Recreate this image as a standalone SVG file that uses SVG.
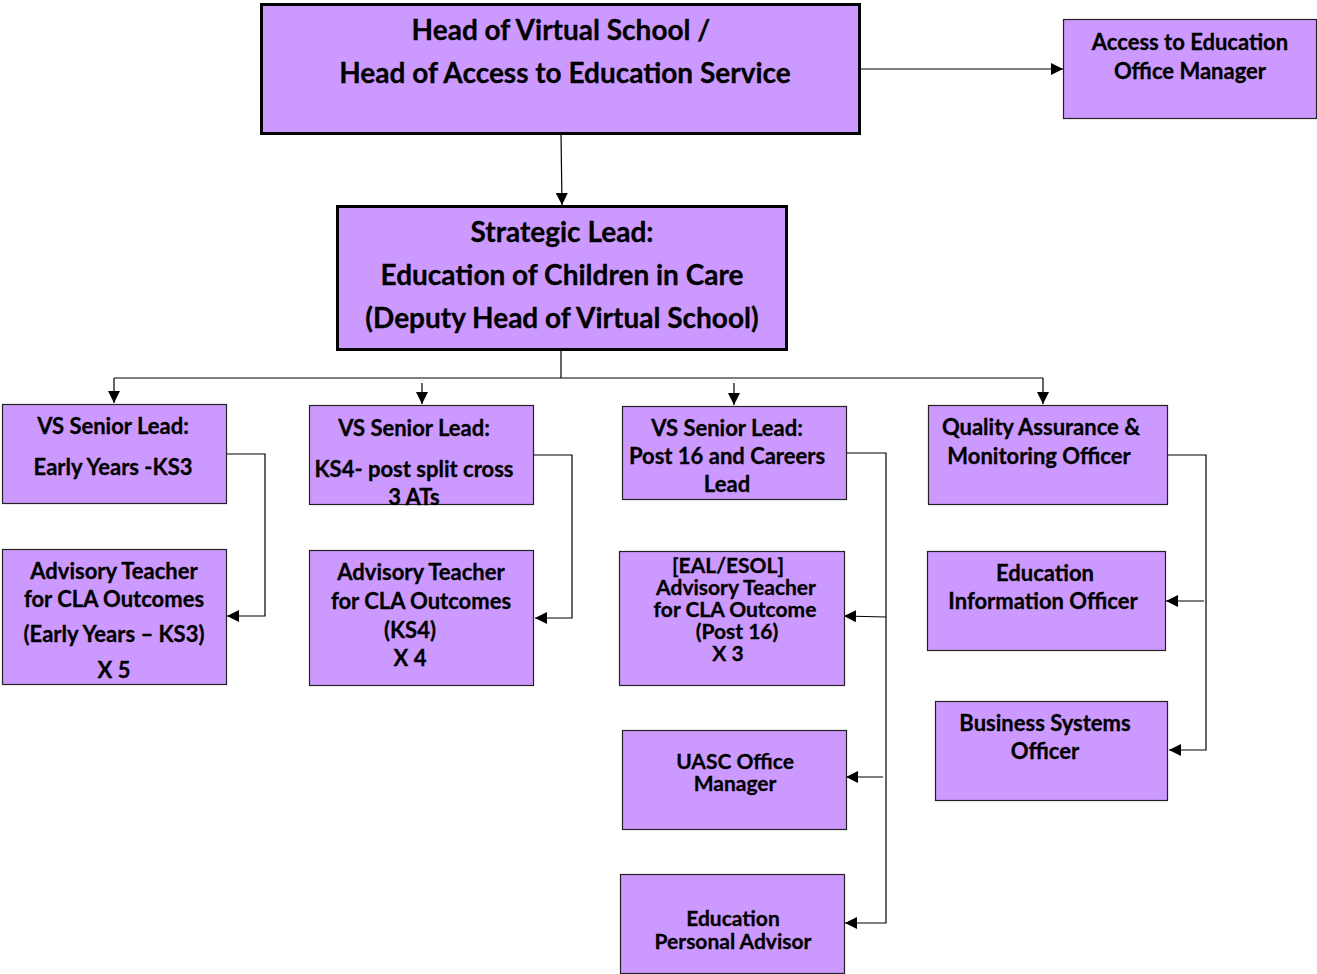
<svg xmlns="http://www.w3.org/2000/svg" width="1317" height="974" viewBox="0 0 1317 974">
<style>
.box{fill:#CC99FF;stroke:#222;stroke-width:1.2}
.bigbox{fill:#CC99FF;stroke:#000;stroke-width:3}
text{font-family:Lato,"Liberation Sans",sans-serif;font-weight:bold;fill:#000;text-anchor:middle;stroke:#000;stroke-width:0.3}
.t26{font-size:28px}
.t20{font-size:22px}
.t21{font-size:21px}
.c{fill:none;stroke:#000;stroke-width:1.2}
</style>
<defs>
<marker id="ah" viewBox="0 0 10 10" refX="10" refY="5" markerWidth="12" markerHeight="12" markerUnits="userSpaceOnUse" orient="auto">
<path d="M0,0 L10,5 L0,10 z" fill="#000"/>
</marker>
</defs>
<g id="connectors">
<line class="c" x1="860" y1="69" x2="1063" y2="69" marker-end="url(#ah)"/>
<line class="c" x1="561" y1="134" x2="562" y2="205" marker-end="url(#ah)"/>
<polyline class="c" points="561,350 561,378"/>
<line class="c" x1="114" y1="378" x2="1043" y2="378"/>
<line class="c" x1="114" y1="378" x2="114" y2="403" marker-end="url(#ah)"/>
<line class="c" x1="422" y1="383" x2="422" y2="404" marker-end="url(#ah)"/>
<line class="c" x1="734" y1="383" x2="734" y2="405" marker-end="url(#ah)"/>
<line class="c" x1="1043" y1="378" x2="1043" y2="404" marker-end="url(#ah)"/>
<polyline class="c" points="226,454 265,454 265,616 227,616" marker-end="url(#ah)"/>
<polyline class="c" points="533,455 572,455 572,618 535,618" marker-end="url(#ah)"/>
<polyline class="c" points="846,453 886,453 886,923 845,923" marker-end="url(#ah)"/>
<line class="c" x1="886" y1="617" x2="844" y2="616" marker-end="url(#ah)"/>
<line class="c" x1="883" y1="777" x2="846" y2="777" marker-end="url(#ah)"/>
<polyline class="c" points="1167,455 1206,455 1206,750 1169,750" marker-end="url(#ah)"/>
<line class="c" x1="1204" y1="601" x2="1166" y2="601" marker-end="url(#ah)"/>
</g>
<g id="head">
<rect class="bigbox" x="261.5" y="4.5" width="598" height="129"/>
<text class="t26" x="561" y="40">Head of Virtual School /</text>
<text class="t26" x="565" y="83">Head of Access to Education Service</text>
</g>
<g id="access-office-manager">
<rect class="box" x="1063.5" y="19.5" width="253" height="99"/>
<text class="t20" x="1190" y="50">Access to Education</text>
<text class="t20" x="1190" y="79">Office Manager</text>
</g>
<g id="strategic-lead">
<rect class="bigbox" x="337.5" y="206.5" width="449" height="143"/>
<text class="t26" x="562" y="242">Strategic Lead:</text>
<text class="t26" x="562" y="285">Education of Children in Care</text>
<text class="t26" x="562" y="328">(Deputy Head of Virtual School)</text>
</g>
<g id="vs-early-years">
<rect class="box" x="2.5" y="404.5" width="224" height="99"/>
<text class="t20" x="113" y="434">VS Senior Lead:</text>
<text class="t20" x="113" y="475">Early Years -KS3</text>
</g>
<g id="vs-ks4">
<rect class="box" x="309.5" y="405.5" width="224" height="99"/>
<text class="t20" x="414" y="436">VS Senior Lead:</text>
<text class="t20" x="414" y="477">KS4- post split cross</text>
<text class="t20" x="414" y="505">3 ATs</text>
</g>
<g id="vs-post16">
<rect class="box" x="622.5" y="406.5" width="224" height="93"/>
<text class="t20" x="727" y="436">VS Senior Lead:</text>
<text class="t20" x="727" y="464">Post 16 and Careers</text>
<text class="t20" x="727" y="492">Lead</text>
</g>
<g id="qa-officer">
<rect class="box" x="928.5" y="405.5" width="239" height="99"/>
<text class="t20" x="1041" y="435">Quality Assurance &amp;</text>
<text class="t20" x="1039" y="464">Monitoring Officer</text>
</g>
<g id="advisory-ey">
<rect class="box" x="2.5" y="549.5" width="224" height="135"/>
<text class="t20" x="114" y="579">Advisory Teacher</text>
<text class="t20" x="114" y="607">for CLA Outcomes</text>
<text class="t20" x="114" y="642">(Early Years – KS3)</text>
<text class="t20" x="114" y="678">X 5</text>
</g>
<g id="advisory-ks4">
<rect class="box" x="309.5" y="550.5" width="224" height="135"/>
<text class="t20" x="421" y="580">Advisory Teacher</text>
<text class="t20" x="421" y="609">for CLA Outcomes</text>
<text class="t20" x="410" y="638">(KS4)</text>
<text class="t20" x="410" y="666">X 4</text>
</g>
<g id="advisory-post16">
<rect class="box" x="619.5" y="551.5" width="225" height="134"/>
<text class="t21" x="728" y="573">[EAL/ESOL]</text>
<text class="t21" x="736" y="595">Advisory Teacher</text>
<text class="t21" x="735" y="617">for CLA Outcome</text>
<text class="t21" x="737" y="639">(Post 16)</text>
<text class="t21" x="728" y="661">X 3</text>
</g>
<g id="uasc-office-manager">
<rect class="box" x="622.5" y="730.5" width="224" height="99"/>
<text class="t21" x="735" y="769">UASC Office</text>
<text class="t21" x="735" y="791">Manager</text>
</g>
<g id="education-personal-advisor">
<rect class="box" x="620.5" y="874.5" width="224" height="99"/>
<text class="t21" x="733" y="926">Education</text>
<text class="t21" x="733" y="949">Personal Advisor</text>
</g>
<g id="education-information-officer">
<rect class="box" x="927.5" y="551.5" width="238" height="99"/>
<text class="t20" x="1045" y="581">Education</text>
<text class="t20" x="1043" y="609">Information Officer</text>
</g>
<g id="business-systems-officer">
<rect class="box" x="935.5" y="701.5" width="232" height="99"/>
<text class="t20" x="1045" y="731">Business Systems</text>
<text class="t20" x="1045" y="759">Officer</text>
</g>
</svg>
